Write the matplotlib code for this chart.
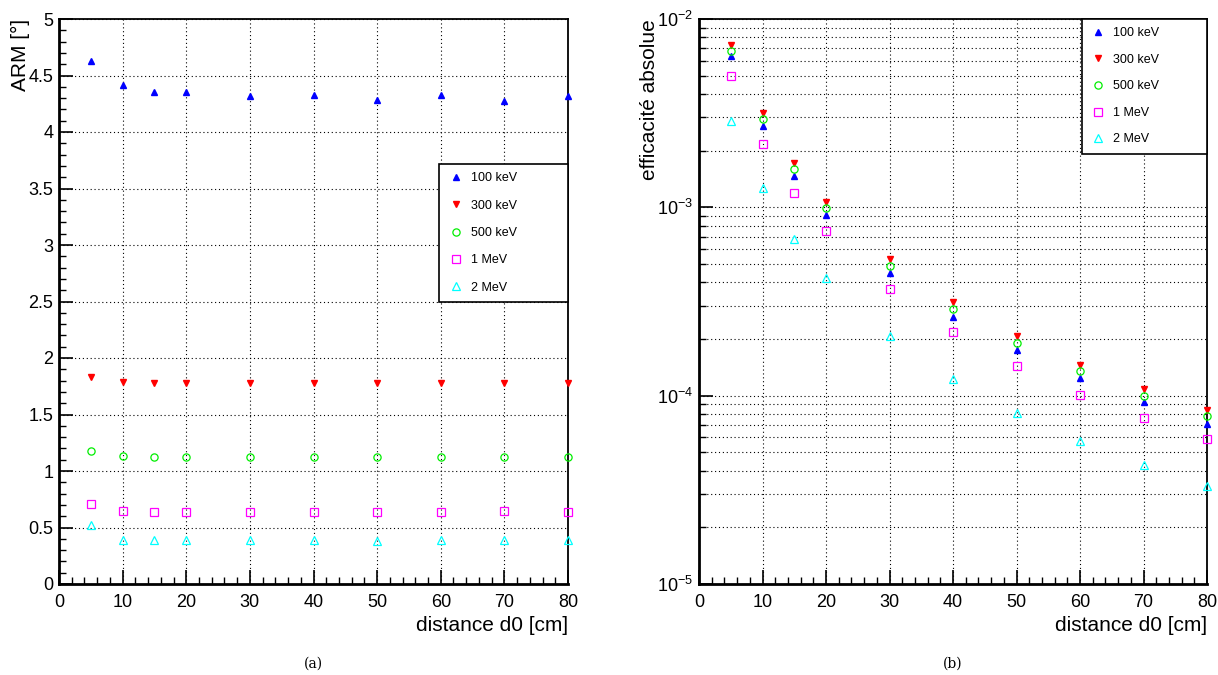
import numpy as np
import matplotlib
matplotlib.use("Agg")
import matplotlib.pyplot as plt
from matplotlib.ticker import MultipleLocator, LogLocator, NullFormatter, FormatStrFormatter

plt.rcParams['font.family'] = ['Liberation Sans', 'DejaVu Sans']
plt.rcParams['mathtext.fontset'] = 'custom'
plt.rcParams['mathtext.rm'] = 'Liberation Sans'
plt.rcParams['mathtext.default'] = 'regular'

# distances d0 [cm]
distance = [5, 10, 15, 20, 30, 40, 50, 60, 70, 80]
labels = ["100 keV", "300 keV", "500 keV", "1 MeV", "2 MeV"]

# ARM [deg]
arm_100keV = [4.63, 4.42, 4.35, 4.35, 4.32, 4.33, 4.28, 4.33, 4.27, 4.32]
arm_300keV = [1.83, 1.79, 1.78, 1.78, 1.775, 1.775, 1.775, 1.775, 1.78, 1.78]
arm_500keV = [1.18, 1.13, 1.125, 1.125, 1.125, 1.125, 1.125, 1.125, 1.125, 1.125]
arm_1MeV = [0.71, 0.65, 0.635, 0.64, 0.635, 0.64, 0.635, 0.64, 0.645, 0.64]
arm_2MeV = [0.525, 0.39, 0.385, 0.385, 0.385, 0.385, 0.38, 0.385, 0.385, 0.385]

# efficacite absolue
eff_100keV = [6.4e-3, 2.70e-3, 1.46e-3, 9.1e-4, 4.49e-4, 2.63e-4, 1.75e-4, 1.24e-4, 9.2e-5, 7.1e-5]
eff_300keV = [7.3e-3, 3.15e-3, 1.72e-3, 1.07e-3, 5.31e-4, 3.13e-4, 2.07e-4, 1.46e-4, 1.09e-4, 8.4e-5]
eff_500keV = [6.75e-3, 2.93e-3, 1.59e-3, 9.9e-4, 4.87e-4, 2.88e-4, 1.91e-4, 1.35e-4, 1.0e-4, 7.8e-5]
eff_1MeV = [5.0e-3, 2.18e-3, 1.19e-3, 7.45e-4, 3.68e-4, 2.17e-4, 1.43e-4, 1.01e-4, 7.6e-5, 5.9e-5]
eff_2MeV = [2.86e-3, 1.26e-3, 6.76e-4, 4.2e-4, 2.07e-4, 1.23e-4, 8.1e-5, 5.74e-5, 4.28e-5, 3.3e-5]

# style ROOT : 22, 23, 24, 25, 26
styles = [
    dict(marker="^", color="#0000ff", mfc="#0000ff", ms=4.6),
    dict(marker="v", color="#ff0000", mfc="#ff0000", ms=4.6),
    dict(marker="o", color="#00ee00", mfc="none", ms=5.2, mew=0.9),
    dict(marker="s", color="#ff00ff", mfc="none", ms=5.2, mew=0.9),
    dict(marker="^", color="#00ffff", mfc="none", ms=5.4, mew=0.9),
]

fig = plt.figure(figsize=(12.18, 6.75), dpi=100)
ax1 = fig.add_axes([59/1218, 91/675, 509/1218, 565/675])
ax2 = fig.add_axes([699/1218, 91/675, 508/1218, 565/675])

def style_axes(ax):
    for s in ax.spines.values():
        s.set_linewidth(1.3)
    ax.spines['left'].set_linewidth(2)
    ax.spines['bottom'].set_linewidth(2)
    ax.tick_params(which='both', direction='in', top=False, right=False, labelsize=13)
    ax.tick_params(which='major', length=10, width=1.2)
    ax.tick_params(which='minor', length=5, width=1)
    ax.tick_params(axis='x', pad=7)
    ax.tick_params(axis='y', pad=4)
    ax.set_xlim(0, 80)
    ax.xaxis.set_major_locator(MultipleLocator(10))
    ax.xaxis.set_minor_locator(MultipleLocator(2))
    ax.set_axisbelow(True)
    ax.set_xlabel("distance d0 [cm]", fontsize=15, loc='right', labelpad=4)

# (a) ARM
for y, lab, st in zip([arm_100keV, arm_300keV, arm_500keV, arm_1MeV, arm_2MeV], labels, styles):
    ax1.plot(distance, y, ls="none", label=lab, clip_on=False, zorder=3, **st)
style_axes(ax1)
ax1.set_ylim(0, 5)
ax1.yaxis.set_major_locator(MultipleLocator(0.5))
ax1.yaxis.set_minor_locator(MultipleLocator(0.1))
ax1.yaxis.set_major_formatter(FormatStrFormatter('%g'))
ax1.grid(True, which='major', color='black', ls=(0, (1, 2.5)), lw=0.8)
ax1.set_ylabel("ARM [°]", fontsize=15, loc='top', labelpad=-1)
leg1 = ax1.legend(loc='upper left', bbox_to_anchor=(0.747, 0.499, 0.253, 0.244), mode='expand',
                  borderaxespad=0, fontsize=9, frameon=True, fancybox=False, edgecolor='black',
                  framealpha=1, labelspacing=1.23, borderpad=0.64, handlelength=1.44,
                  handletextpad=0.5, numpoints=1)
leg1.get_frame().set_linewidth(1.2)

# (b) efficacite
for y, lab, st in zip([eff_100keV, eff_300keV, eff_500keV, eff_1MeV, eff_2MeV], labels, styles):
    ax2.plot(distance, y, ls="none", label=lab, clip_on=False, zorder=3, **st)
style_axes(ax2)
ax2.set_yscale('log')
ax2.set_ylim(1e-5, 1e-2)
ax2.yaxis.set_major_locator(LogLocator(base=10, numticks=10))
ax2.yaxis.set_minor_locator(LogLocator(base=10, subs=np.arange(2, 10), numticks=20))
ax2.yaxis.set_minor_formatter(NullFormatter())
ax2.grid(True, which='both', axis='y', color='black', ls=(0, (1, 2.5)), lw=0.8)
ax2.grid(True, which='major', axis='x', color='black', ls=(0, (1, 2.5)), lw=0.8)
ax2.set_ylabel("efficacité absolue", fontsize=15, loc='top', labelpad=-1)
leg2 = ax2.legend(loc='upper left', bbox_to_anchor=(0.754, 0.763, 0.246, 0.237), mode='expand',
                  borderaxespad=0, fontsize=9, frameon=True, fancybox=False, edgecolor='black',
                  framealpha=1, labelspacing=1.17, borderpad=0.64, handlelength=1.23,
                  handletextpad=0.6, numpoints=1)
leg2.get_frame().set_linewidth(1.2)

fig.text(313/1218, 1 - 664/675, "(a)", family='DejaVu Serif', fontsize=10, ha='center', va='center')
fig.text(953/1218, 1 - 664/675, "(b)", family='DejaVu Serif', fontsize=10, ha='center', va='center')

fig.savefig("out.png", dpi=100)
